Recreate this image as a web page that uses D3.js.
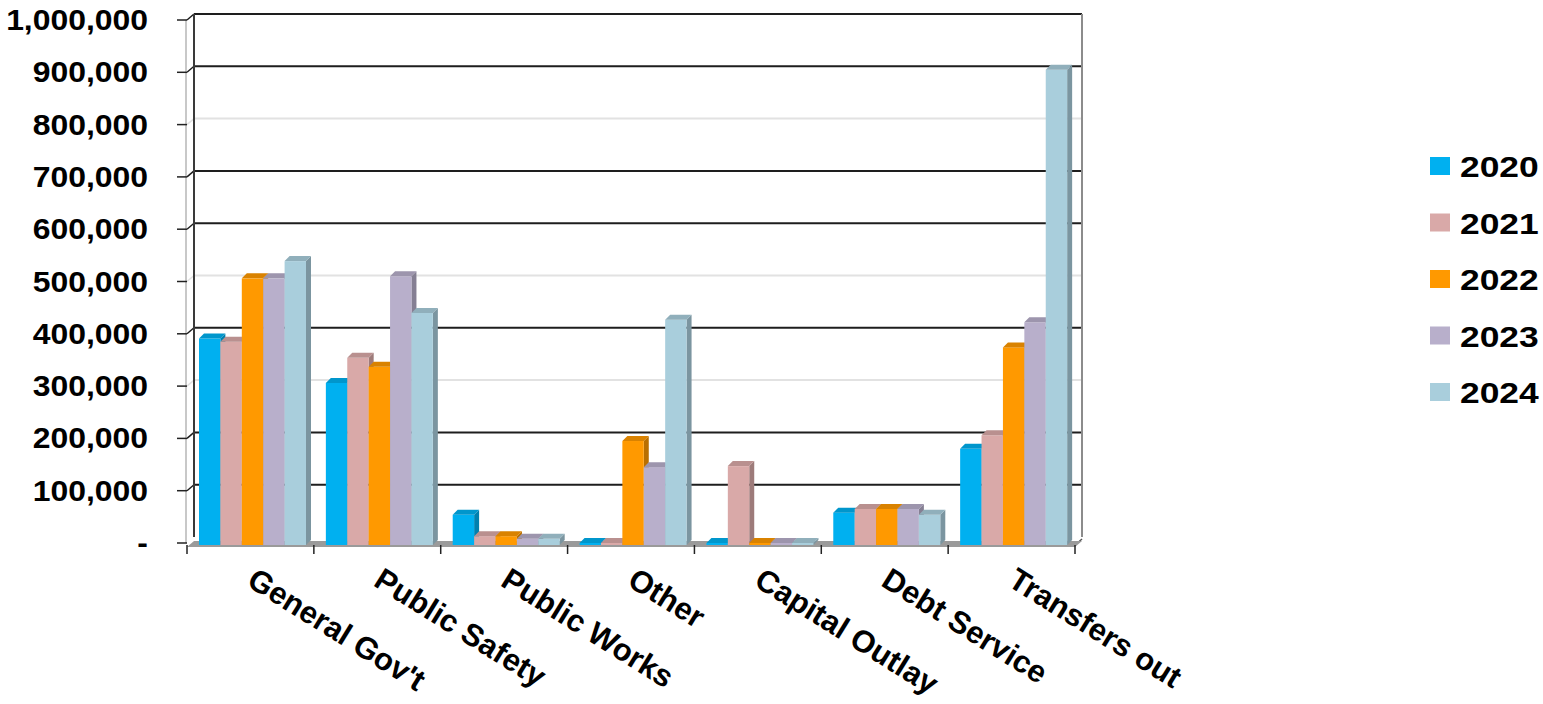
<!DOCTYPE html>
<html>
<head>
<meta charset="utf-8">
<script src="https://cdn.jsdelivr.net/npm/d3@7"></script>
<style>
  html, body { margin: 0; padding: 0; background: #fff; }
  svg { display: block; font-family: "Liberation Sans", Arial, sans-serif; font-weight: bold; }
</style>
</head>
<body>
<svg id="chart" width="1543" height="704"></svg>
<script>
// Chart data
const categories = ['General Gov\'t', 'Public Safety', 'Public Works', 'Other', 'Capital Outlay', 'Debt Service', 'Transfers out'];
const years = ['2020', '2021', '2022', '2023', '2024'];
const values2020 = [391000, 306000, 54000, 0, 0, 58000, 180000];
const values2021 = [385000, 354000, 13000, 0, 147000, 65000, 206000];
const values2022 = [506000, 337000, 13000, 195000, 0, 65000, 374000];
const values2023 = [506000, 510000, 8000, 145000, 0, 65000, 422000];
const values2024 = [539000, 440000, 8000, 427000, 0, 54000, 905000];
const yTicks = [0, 100000, 200000, 300000, 400000, 500000, 600000, 700000, 800000, 900000, 1000000];

const seriesValues = [values2020, values2021, values2022, values2023, values2024];
const colors = ['#00b0f0', '#d9a9a8', '#ff9900', '#b8afcb', '#a9cedc'];
// gridlines that come out faint in the picture
const faintTicks = [300000, 500000, 800000];

const svg = d3.select('#chart');

// 3D offsets: walls and bar depth
const wall = { dx: 7, dy: -6 };
const depth = { dx: 5, dy: -5 };

const y = d3.scaleLinear().domain([0, 1000000]).range([543, 20]);
const x = d3.scaleBand().domain(categories).range([187, 1075]);
const xs = d3.scaleBand().domain(years).range([12, 119]);
const y0 = y(0);
const xl = x.range()[0];
const xr = x.range()[1];

// Back wall gridlines
const grid = svg.append('g').attr('class', 'grid');
yTicks.filter(d => d > 0).forEach((v) => {
  const faint = faintTicks.includes(v);
  const col = faint ? '#e2e2e2' : '#1e1e1e';
  grid.append('line')
    .attr('x1', xl + wall.dx).attr('x2', xr + wall.dx)
    .attr('y1', y(v) + wall.dy).attr('y2', y(v) + wall.dy)
    .attr('stroke', col).attr('stroke-width', 2);
  grid.append('line')
    .attr('x1', xl).attr('x2', xl + wall.dx)
    .attr('y1', y(v)).attr('y2', y(v) + wall.dy)
    .attr('stroke', col).attr('stroke-width', 1.5);
});

// Left wall edges and right wall edge
grid.append('line')
  .attr('x1', xl - 1).attr('x2', xl - 1)
  .attr('y1', y(1000000)).attr('y2', y0)
  .attr('stroke', '#c8c8c8').attr('stroke-width', 2);
grid.append('line')
  .attr('x1', xl + wall.dx).attr('x2', xl + wall.dx)
  .attr('y1', y(1000000) + wall.dy).attr('y2', y0 + wall.dy)
  .attr('stroke', '#3a3a3a').attr('stroke-width', 2);
grid.append('line')
  .attr('x1', xr + wall.dx).attr('x2', xr + wall.dx)
  .attr('y1', y(1000000) + wall.dy).attr('y2', y0 + wall.dy)
  .attr('stroke', '#8c8c8c').attr('stroke-width', 2);
grid.append('line')
  .attr('x1', xr).attr('x2', xr + wall.dx)
  .attr('y1', y0 + 2).attr('y2', y0 + wall.dy + 2)
  .attr('stroke', '#555').attr('stroke-width', 1.5);

// Floor
svg.append('polygon')
  .attr('points', [
    [xl, y0 + 4], [xr, y0 + 4], [xr + wall.dx, y0 + 4 + wall.dy], [xl + wall.dx, y0 + 4 + wall.dy]
  ].map(p => p.join(',')).join(' '))
  .attr('fill', '#9a9a9a');

// Bars
const bars = svg.append('g').attr('class', 'bars');
categories.forEach((cat, ci) => {
  years.forEach((yr, si) => {
    const v = seriesValues[si][ci];
    const bx = x(cat) + xs(yr);
    const bw = xs.bandwidth();
    const top = y(v);
    const bot = y0 + 2;
    const base = d3.color(colors[si]);
    const g = bars.append('g');
    // side face
    g.append('polygon')
      .attr('points', [
        [bx + bw, top], [bx + bw + depth.dx, top + depth.dy],
        [bx + bw + depth.dx, bot + depth.dy], [bx + bw, bot]
      ].map(p => p.join(',')).join(' '))
      .attr('fill', base.darker(0.9));
    // front face
    g.append('rect')
      .attr('x', bx).attr('y', top)
      .attr('width', bw).attr('height', Math.max(0, bot - top))
      .attr('fill', base);
    // top face
    g.append('polygon')
      .attr('points', [
        [bx, top], [bx + bw, top], [bx + bw + depth.dx, top + depth.dy], [bx + depth.dx, top + depth.dy]
      ].map(p => p.join(',')).join(' '))
      .attr('fill', base.darker(0.45));
  });
});

// Y axis: tick marks and labels
const yAxis = svg.append('g').attr('class', 'y-axis');
yTicks.forEach((v) => {
  yAxis.append('line')
    .attr('x1', xl - 10).attr('x2', xl)
    .attr('y1', y(v)).attr('y2', y(v))
    .attr('stroke', '#222').attr('stroke-width', 1.5);
  yAxis.append('text')
    .attr('transform', `translate(148,${y(v) + 10}) scale(1.1,1)`)
    .attr('text-anchor', 'end')
    .attr('font-size', 29)
    .attr('fill', '#000')
    .text(v === 0 ? '-' : d3.format(',')(v));
});

// X axis: tick marks and rotated labels
const xAxis = svg.append('g').attr('class', 'x-axis');
const bounds = categories.map(c => x(c)).concat([xr]);
bounds.forEach((bx) => {
  xAxis.append('line')
    .attr('x1', bx).attr('x2', bx)
    .attr('y1', y0 + 2).attr('y2', y0 + 11)
    .attr('stroke', '#222').attr('stroke-width', 1.5);
});
categories.forEach((cat) => {
  xAxis.append('text')
    .attr('transform', `translate(${x(cat) + x.bandwidth() / 2 - 5},${y0 + 42}) rotate(32)`)
    .attr('text-anchor', 'start')
    .attr('font-size', 31)
    .attr('fill', '#000')
    .text(cat);
});

// Legend
const legend = svg.append('g').attr('class', 'legend');
years.forEach((yr, i) => {
  const ly = 166 + i * 56.5;
  legend.append('rect')
    .attr('x', 1430).attr('y', ly - 9)
    .attr('width', 20).attr('height', 18)
    .attr('fill', colors[i]);
  legend.append('text')
    .attr('transform', `translate(1460,${ly + 11}) scale(1.18,1)`)
    .attr('font-size', 30)
    .attr('fill', '#000')
    .text(yr);
});
</script>
</body>
</html>
